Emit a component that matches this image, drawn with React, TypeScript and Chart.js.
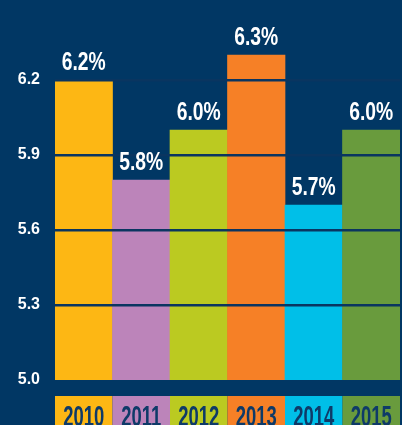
import React, { useEffect, useRef } from "react";
import { Chart, registerables } from "chart.js";

Chart.register(...registerables);

const years = ["2010", "2011", "2012", "2013", "2014", "2015"];
const rates = [6.2, 5.8, 6.0, 6.3, 5.7, 6.0];
const barColors = ["#FDB714", "#BC84BA", "#BBCA21", "#F68026", "#00BFE8", "#699B3D"];
const yTicks = [5.0, 5.3, 5.6, 5.9, 6.2];

const BG = "#013764";
const NAVY_TEXT = "#0E3A68";
const CONDENSED = "bold {S}px 'Liberation Sans', Arial, sans-serif";

function condensedText(ctx: any, text: string, x: number, y: number, size: number, ref: string, refW: number, color: string) {
  ctx.save();
  ctx.font = CONDENSED.replace("{S}", String(size));
  const sx = refW / ctx.measureText(ref).width;
  ctx.fillStyle = color;
  ctx.textAlign = "center";
  ctx.textBaseline = "alphabetic";
  ctx.translate(x, y);
  ctx.scale(sx, 1);
  ctx.fillText(text, 0, 0);
  ctx.restore();
}

const labelPlugin = {
  id: "labelPlugin",
  beforeDraw(chart: any) {
    const { ctx, width, height } = chart;
    ctx.save();
    ctx.fillStyle = BG;
    ctx.fillRect(0, 0, width, height);
    ctx.restore();
  },
  afterDraw(chart: any) {
    const { ctx } = chart;
    const xs = chart.scales.x;
    const ys = chart.scales.y;
    const meta = chart.getDatasetMeta(0);
    const step = (chart.chartArea.right - chart.chartArea.left) / years.length;
    // value labels
    meta.data.forEach((bar: any, i: number) => {
      const text = rates[i].toFixed(1) + "%";
      condensedText(ctx, text, bar.x, bar.y - 10, 26, "6.2%", 44, "#FFFFFF");
    });
    // year boxes
    const boxTop = ys.getPixelForValue(5.0) + 16;
    years.forEach((yr, i) => {
      const cx = xs.getPixelForValue(i);
      ctx.save();
      ctx.fillStyle = barColors[i];
      ctx.fillRect(cx - step / 2, boxTop, step, chart.height - boxTop);
      ctx.restore();
      condensedText(ctx, yr, cx, boxTop + 30, 30, "2010", 41, NAVY_TEXT);
    });
  },
};

export default function App() {
  const ref = useRef<HTMLCanvasElement | null>(null);
  useEffect(() => {
    document.body.style.margin = "0";
    document.body.style.background = BG;
    const canvas = ref.current!;
    const chart = new Chart(canvas, {
      type: "bar",
      data: {
        labels: years,
        datasets: [
          {
            data: rates,
            backgroundColor: barColors,
            borderWidth: 0,
            barPercentage: 1,
            categoryPercentage: 1,
          },
        ],
      },
      options: {
        responsive: false,
        animation: false,
        devicePixelRatio: 1,
        layout: { autoPadding: false, padding: { top: 0, right: 2, bottom: 0, left: 0 } },
        plugins: {
          legend: { display: false },
          tooltip: { enabled: false },
          title: { display: false },
        },
        scales: {
          x: {
            grid: { display: false },
            border: { display: false },
            ticks: { display: false },
            afterFit(scale: any) {
              scale.height = 45;
            },
          },
          y: {
            min: 5.0,
            max: 6.52,
            bounds: "data",
            border: { display: false },
            grid: {
              z: 1,
              drawTicks: false,
              lineWidth: 2.5,
              color: (c: any) => (c.tick && c.tick.value === 5.0 ? "rgba(0,0,0,0)" : "#0A3560"),
            },
            afterBuildTicks(scale: any) {
              scale.ticks = yTicks.map((v) => ({ value: v }));
            },
            afterFit(scale: any) {
              scale.width = 55;
              scale.paddingTop = 0;
              scale.paddingBottom = 0;
            },
            ticks: {
              padding: 15,
              color: "#FFFFFF",
              font: { family: "'Liberation Sans', Arial, sans-serif", weight: "bold", size: 16 },
              callback: (v: any) => Number(v).toFixed(1),
            },
          },
        },
      },
      plugins: [labelPlugin],
    });
    return () => chart.destroy();
  }, []);
  return (
    <div style={{ width: 402, height: 425, background: BG }}>
      <canvas ref={ref} width={402} height={425} style={{ display: "block" }} />
    </div>
  );
}
